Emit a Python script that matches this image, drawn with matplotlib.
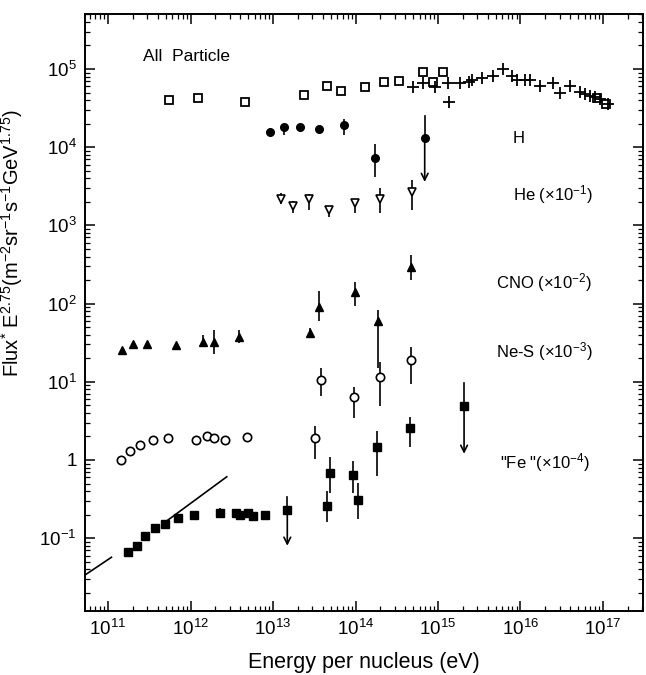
import numpy as np
import matplotlib
matplotlib.use('Agg')
import matplotlib.pyplot as plt
from matplotlib.ticker import LogLocator, NullFormatter

plt.rcParams['font.family'] = ['Liberation Sans', 'DejaVu Sans']
plt.rcParams['mathtext.default'] = 'regular'

# all particle, open squares
all_sq_x = [5.5e11, 1.24e12, 4.6e12, 2.4e13, 4.5e13, 6.7e13, 1.3e14, 2.2e14, 3.4e14,
            6.5e14, 8.7e14, 1.15e15, 8.4e16, 1.1e17]
all_sq_y = [4.0e4, 4.2e4, 3.8e4, 4.7e4, 6.0e4, 5.3e4, 5.8e4, 6.8e4, 7.1e4,
            9.1e4, 6.8e4, 9.1e4, 4.2e4, 3.6e4]
# all particle, crosses
all_pl_x = [5.0e14, 6.6e14, 9.2e14, 1.32e15, 1.36e15, 1.85e15, 2.4e15, 2.6e15, 3.4e15,
            4.7e15, 6.1e15, 8.0e15, 9.0e15, 1.13e16, 1.3e16, 1.72e16, 2.5e16, 3.0e16,
            4.0e16, 5.3e16, 6.1e16, 7.0e16, 8.0e16, 9.2e16, 1.16e17]
all_pl_y = [5.9e4, 6.6e4, 5.9e4, 6.6e4, 3.8e4, 6.6e4, 6.9e4, 7.2e4, 7.6e4,
            8.1e4, 9.9e4, 8.1e4, 7.2e4, 7.2e4, 7.2e4, 6.1e4, 6.6e4, 5.0e4,
            6.1e4, 5.1e4, 4.8e4, 4.5e4, 4.35e4, 4.1e4, 3.6e4]

# H
h_x = [9.3e12, 1.36e13, 2.1e13, 3.6e13, 7.2e13, 1.74e14]
h_y = [1.55e4, 1.8e4, 1.83e4, 1.73e4, 1.92e4, 7.2e3]
h_lo = [1.45e4, 1.45e4, 1.65e4, 1.5e4, 1.45e4, 4.2e3]
h_hi = [1.65e4, 2.0e4, 2.0e4, 1.85e4, 2.3e4, 1.1e4]
h_lim_x = [6.9e14]
h_lim_y = [1.3e4]
h_lim_top = [2.5e4]
h_lim_end = [3.6e3]

# He (x 0.1)
he_x = [1.25e13, 1.76e13, 2.76e13, 4.8e13, 9.9e13, 2.0e14, 4.8e14]
he_y = [2.2e3, 1.77e3, 2.16e3, 1.57e3, 1.92e3, 2.2e3, 2.7e3]
he_lo = [1.9e3, 1.43e3, 1.58e3, 1.27e3, 1.46e3, 1.43e3, 1.57e3]
he_hi = [2.57e3, 2.08e3, 2.5e3, 1.77e3, 2.15e3, 3.05e3, 3.85e3]

# CNO (x 0.01)
cno_x = [1.49e11, 2.03e11, 3.0e11, 6.7e11, 1.4e12, 1.9e12, 3.9e12, 2.8e13, 3.6e13,
         9.9e13, 1.9e14, 4.7e14]
cno_y = [25.5, 30, 30, 29.5, 32.6, 32.6, 37.7, 41.7, 91, 140, 60, 297]
cno_lo = [25.5, 30, 30, 29.5, 27.9, 22.6, 31.4, 36.3, 60.4, 94, 15, 200]
cno_hi = [25.5, 30, 30, 29.5, 39.7, 45.9, 45.9, 48.6, 146, 190, 83, 418]

# Ne-S (x 0.001)
nes_x = [1.44e11, 1.85e11, 2.46e11, 3.5e11, 5.4e11, 1.15e12, 1.6e12, 1.94e12, 2.6e12,
         4.9e12, 3.2e13, 3.8e13, 9.5e13, 2.0e14, 4.7e14]
nes_y = [1.0, 1.3, 1.55, 1.8, 1.9, 1.8, 2.05, 1.9, 1.8, 1.95, 1.9, 10.5, 6.3, 11.6, 19]
nes_lo = [1.0, 1.3, 1.55, 1.8, 1.9, 1.6, 1.85, 1.7, 1.6, 1.75, 1.02, 6.5, 3.4, 4.9, 9.4]
nes_hi = [1.0, 1.3, 1.55, 1.8, 1.9, 2.0, 2.3, 2.1, 2.0, 2.2, 2.7, 15, 8.6, 18, 28]

# "Fe" (x 0.0001)
fe_x = [1.76e11, 2.27e11, 2.8e11, 3.7e11, 4.9e11, 7.1e11, 1.1e12, 2.3e12, 3.55e12,
        4.0e12, 5.0e12, 5.8e12, 7.9e12, 4.5e13, 4.9e13, 9.2e13, 1.07e14, 1.8e14, 4.6e14]
fe_y = [0.066, 0.080, 0.107, 0.136, 0.152, 0.18, 0.20, 0.21, 0.21,
        0.196, 0.21, 0.19, 0.196, 0.26, 0.69, 0.64, 0.31, 1.48, 2.6]
fe_lo = [0.066, 0.080, 0.107, 0.136, 0.152, 0.18, 0.20, 0.185, 0.21,
         0.196, 0.21, 0.19, 0.196, 0.16, 0.375, 0.375, 0.176, 0.63, 1.45]
fe_hi = [0.066, 0.080, 0.107, 0.136, 0.152, 0.18, 0.20, 0.24, 0.21,
         0.196, 0.21, 0.19, 0.196, 0.40, 1.1, 0.96, 0.51, 2.35, 3.5]
fe_lim_x = [1.49e13, 2.07e15]
fe_lim_y = [0.23, 4.9]
fe_lim_top = [0.34, 9.7]
fe_lim_end = [0.08, 1.2]

# power-law line, drawn in two pieces
line_x = [[5.3e10, 1.1e11], [4.9e11, 2.75e12]]
line_y = [[0.034, 0.057], [0.16, 0.61]]


def bars(ax, x, y, lo, hi):
    y = np.array(y)
    err = [y - np.array(lo), np.array(hi) - y]
    ax.errorbar(x, y, yerr=err, fmt='none', ecolor='k', elinewidth=1.2, capsize=0)


def limits(ax, x, y, top, end):
    for xi, yi, ti, ei in zip(x, y, top, end):
        ax.plot([xi, xi], [yi, ti], color='k', lw=1.2)
        ax.annotate('', xy=(xi, ei), xytext=(xi, yi),
                    arrowprops=dict(arrowstyle='->', color='k', lw=1.2,
                                    shrinkA=0, shrinkB=0, mutation_scale=12))


fig = plt.figure(figsize=(6.46, 6.75), dpi=100)
ax = fig.add_axes([85/646, 64/675, 558/646, 597/675])
ax.set_xscale('log')
ax.set_yscale('log')
ax.set_xlim(10**10.721, 10**17.485)
ax.set_ylim(10**-1.931, 10**5.703)

for lx, ly in zip(line_x, line_y):
    ax.plot(lx, ly, color='k', lw=1.2)

bars(ax, h_x, h_y, h_lo, h_hi)
bars(ax, he_x, he_y, he_lo, he_hi)
bars(ax, cno_x, cno_y, cno_lo, cno_hi)
bars(ax, nes_x, nes_y, nes_lo, nes_hi)
bars(ax, fe_x, fe_y, fe_lo, fe_hi)
limits(ax, h_lim_x, h_lim_y, h_lim_top, h_lim_end)
limits(ax, fe_lim_x, fe_lim_y, fe_lim_top, fe_lim_end)

ax.plot(all_sq_x, all_sq_y, 's', ms=5.5, mfc='white', mec='k', mew=1.3)
ax.plot(all_pl_x, all_pl_y, '+', ms=9, mec='k', mew=1.3)
ax.plot(h_x + h_lim_x, h_y + h_lim_y, 'o', ms=5.5, mfc='k', mec='k')
ax.plot(he_x, he_y, 'v', ms=5.5, mfc='white', mec='k', mew=1.2)
ax.plot(cno_x, cno_y, '^', ms=6, mfc='k', mec='k')
ax.plot(nes_x, nes_y, 'o', ms=6, mfc='white', mec='k', mew=1.2)
ax.plot(fe_x + fe_lim_x, fe_y + fe_lim_y, 's', ms=5.5, mfc='k', mec='k')

ax.text(0.104, 0.928, 'All  Particle', transform=ax.transAxes, fontsize=12.5, va='center')
ax.text(0.767, 0.792, 'H', transform=ax.transAxes, fontsize=12, va='center')
ax.text(0.767, 0.697, 'He (×10$^{-1}$)', transform=ax.transAxes, fontsize=12, va='center')
ax.text(0.737, 0.551, 'CNO (×10$^{-2}$)', transform=ax.transAxes, fontsize=12, va='center')
ax.text(0.737, 0.434, 'Ne-S (×10$^{-3}$)', transform=ax.transAxes, fontsize=12, va='center')
ax.text(0.744, 0.248, '"Fe "(×10$^{-4}$)', transform=ax.transAxes, fontsize=12, va='center')

xt = [1e11, 1e12, 1e13, 1e14, 1e15, 1e16, 1e17]
ax.set_xticks(xt)
ax.set_xticklabels(['$10^{%d}$' % k for k in range(11, 18)])
yt = [1e-1, 1, 1e1, 1e2, 1e3, 1e4, 1e5]
ax.set_yticks(yt)
ax.set_yticklabels(['$10^{-1}$', '1', '$10^{1}$', '$10^{2}$', '$10^{3}$', '$10^{4}$', '$10^{5}$'])
ax.xaxis.set_minor_locator(LogLocator(base=10, subs=np.arange(2, 10), numticks=100))
ax.yaxis.set_minor_locator(LogLocator(base=10, subs=np.arange(2, 10), numticks=100))
ax.xaxis.set_minor_formatter(NullFormatter())
ax.yaxis.set_minor_formatter(NullFormatter())
ax.tick_params(which='both', direction='in', top=True, right=True, labelsize=13.5)
ax.tick_params(which='major', length=7, width=1.1, pad=6)
ax.tick_params(which='minor', length=3.5, width=0.9)
for s in ax.spines.values():
    s.set_linewidth(1.4)

ax.set_xlabel('Energy per nucleus (eV)', fontsize=15.5, labelpad=9)
ax.set_ylabel('Flux$^{*}$ E$^{2.75}$(m$^{-2}$sr$^{-1}$s$^{-1}$GeV$^{1.75}$)', fontsize=14.5)
ax.yaxis.set_label_coords(-0.108, 0.616)

fig.savefig('out.png', dpi=100)
